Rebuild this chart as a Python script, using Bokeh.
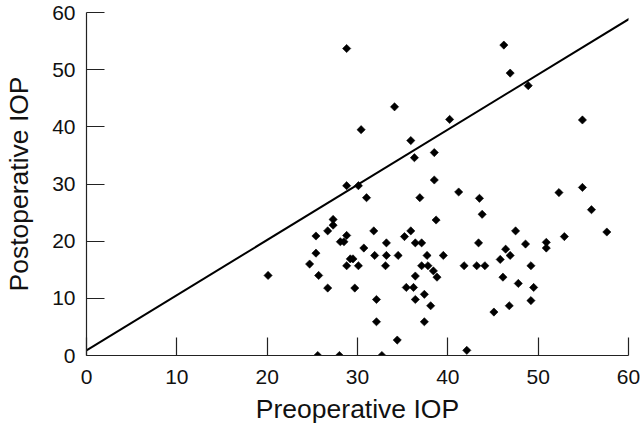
import math
from bokeh.plotting import figure
from bokeh.models import FixedTicker
from bokeh.embed import file_html
from bokeh.resources import INLINE

# Data
preop_iop = [28.8, 30.4, 28.8, 30.1, 31.0, 34.1, 40.2, 35.9, 36.3, 38.5,
             38.5, 41.2, 36.9, 43.5, 46.2, 46.9, 48.9, 54.9, 54.9, 52.3,
             55.9, 57.6, 47.5, 52.9, 50.9, 50.9, 48.6, 46.4, 46.9, 45.8,
             49.2, 46.1, 47.8, 49.5, 49.2, 46.8, 45.1, 43.8, 38.7, 35.9,
             35.2, 33.2, 36.4, 37.1, 43.4, 31.8, 31.9, 33.2, 34.5, 37.7,
             39.5, 33.1, 37.1, 37.8, 41.8, 43.2, 44.1, 38.4, 38.8, 36.4,
             35.4, 36.2, 37.4, 36.4, 38.1, 32.1, 32.1, 37.4, 34.4, 32.7,
             42.1, 27.3, 27.3, 26.7, 25.4, 28.8, 28.1, 28.5, 30.7, 25.4,
             24.7, 29.2, 29.5, 28.8, 30.1, 20.1, 25.7, 26.7, 29.7, 25.6,
             28.0]
postop_iop = [53.7, 39.5, 29.7, 29.7, 27.6, 43.5, 41.3, 37.6, 34.6, 35.5,
              30.7, 28.6, 27.6, 27.5, 54.3, 49.4, 47.2, 41.2, 29.4, 28.5,
              25.5, 21.6, 21.8, 20.8, 19.8, 18.8, 19.5, 18.6, 17.5, 16.8,
              15.7, 13.7, 12.6, 11.9, 9.6, 8.7, 7.6, 24.7, 23.7, 21.8,
              20.8, 19.7, 19.7, 19.7, 19.7, 21.8, 17.5, 17.5, 17.5, 17.5,
              17.5, 15.7, 15.7, 15.7, 15.7, 15.7, 15.7, 14.8, 13.7, 13.9,
              11.9, 11.9, 10.7, 9.8, 8.7, 9.8, 5.9, 5.9, 2.7, 0.0,
              0.9, 23.8, 22.8, 21.8, 20.9, 21.0, 19.9, 19.9, 18.8, 17.9,
              16.0, 16.9, 16.9, 15.7, 15.7, 14.0, 14.0, 11.8, 11.8, 0.0,
              0.0]
axis_ticks = [0, 10, 20, 30, 40, 50, 60]
ref_line_x = [0, 60.4]
ref_line_y = [0.9, 59.2]
x_title = "Preoperative IOP"
y_title = "Postoperative IOP"

p = figure(width=640, height=426, x_range=(0, 60), y_range=(0, 60),
           output_backend="svg", toolbar_location=None,
           min_border_left=86, min_border_right=12,
           min_border_top=12, min_border_bottom=71)
p.outline_line_color = None
p.grid.visible = False
p.background_fill_color = "white"
p.border_fill_color = "white"

p.line(ref_line_x, ref_line_y, line_color="black", line_width=2)
p.scatter(preop_iop, postop_iop, marker="square", angle=math.pi / 4,
          size=5.8, fill_color="black", line_color="black", line_width=0.6)

p.xaxis.axis_label = x_title
p.yaxis.axis_label = y_title

for ax in (p.xaxis[0], p.yaxis[0]):
    ax.ticker = FixedTicker(ticks=axis_ticks)
    ax.major_tick_in = 18
    ax.major_tick_out = 0
    ax.minor_tick_in = 0
    ax.minor_tick_out = 0
    ax.axis_line_color = "#222222"
    ax.axis_line_width = 1.2
    ax.major_tick_line_color = "#222222"
    ax.major_tick_line_width = 1.2
    ax.major_label_text_font = "Liberation Sans"
    ax.major_label_text_font_size = "21px"
    ax.major_label_text_color = "#111111"
    ax.axis_label_text_font = "Liberation Sans"
    ax.axis_label_text_font_size = "26.5px"
    ax.axis_label_text_font_style = "normal"
    ax.axis_label_text_color = "#111111"

p.xaxis.major_label_standoff = 14
p.xaxis.axis_label_standoff = 7
p.yaxis.major_label_standoff = 11
p.yaxis.axis_label_standoff = 15

open("out.html", "w").write(file_html(p, INLINE))
